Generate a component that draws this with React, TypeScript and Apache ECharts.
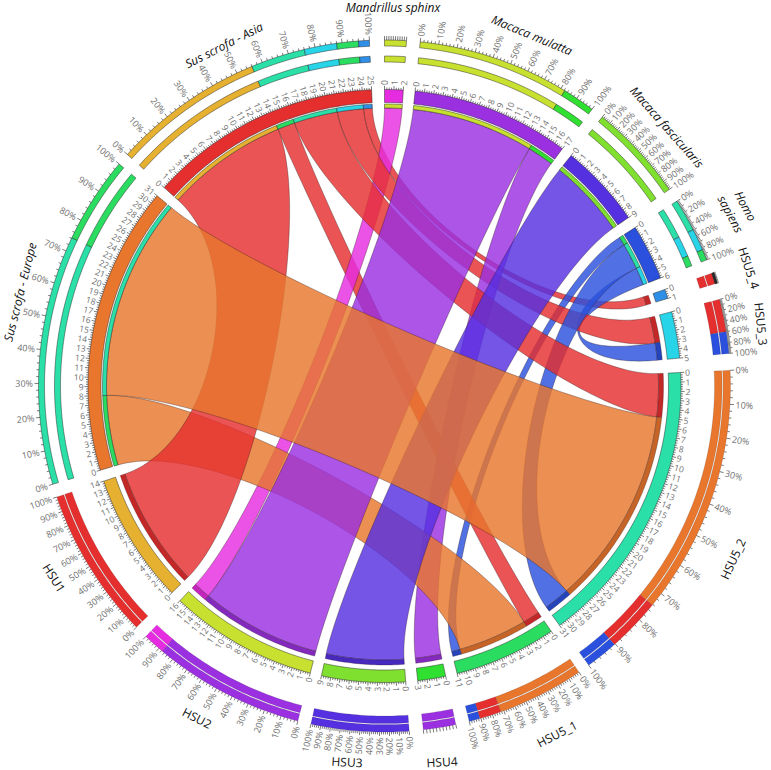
import React, { useEffect, useRef } from "react";
import * as echarts from "echarts";

// ---- data ----
const sectorNames = ["Mandrillus sphinx","Macaca mulatta","Macaca fascicularis","Homo sapiens","HSU5_4","HSU5_3","HSU5_2","HSU5_1","HSU4","HSU3","HSU2","HSU1","Sus scrofa - Europe","Sus scrofa - Asia"];
const sectorSizes = [2,17,9,6,1,5,31,11,3,9,16,14,31,25];
const sectorColors = ["#e62ce0","#9a30e0","#5530e0","#2b50dd","#2f8fe6","#28d5e8","#2be0a8","#2add60","#30e030","#80e030","#c8e030","#e6b030","#e8762d","#e52e2e"];
const sectorIsSource = [true,true,true,true,false,false,false,false,false,false,false,false,true,true];
// angle (deg clockwise from top) at which each sector begins
const sectorStarts = [0,5.93,39.0,57.7,71.0,75.5,87.4,145.8,168.1,175.9,194.5,225.8,253.5,312.0];
// flows: source sector, from, to, target sector, from, to
const flows: number[][] = [
  [13,0,14,11,0,14],[13,14,16,7,0,2],[13,16,21,6,0,5],[13,21,24,5,0,3],[13,24,25,4,0,1],
  [12,0,8,7,2,10],[12,8,31,6,5,28],
  [0,0,2,10,14,16],
  [1,0,14,10,0,14],[1,14,17,8,0,3],
  [2,0,9,9,0,9],
  [3,0,1,7,10,11],[3,1,4,6,28,31],[3,4,6,5,3,5],
];
const nameLabels = [
  { text: "Mandrillus sphinx", pos: [393, 7], rot: 0 },
  { text: "Macaca mulatta", pos: [532, 35], rot: 22.5 },
  { text: "Macaca fascicularis", pos: [667, 127], rot: 48.5 },
  { text: "Homo\nsapiens", pos: [738, 210], rot: 62 },
  { text: "HSU5_4", pos: [749, 268], rot: 72, plain: true },
  { text: "HSU5_3", pos: [761, 324], rot: 84, plain: true },
  { text: "HSU5_2", pos: [733, 559], rot: -65, plain: true },
  { text: "HSU5_1", pos: [557, 734], rot: -27, plain: true },
  { text: "HSU4", pos: [442, 762], rot: -3, plain: true },
  { text: "HSU3", pos: [347, 762], rot: 3, plain: true },
  { text: "HSU2", pos: [197, 718], rot: 27, plain: true },
  { text: "HSU1", pos: [54, 578], rot: 58, plain: true },
  { text: "Sus scrofa - Europe", pos: [20, 292], rot: -76 },
  { text: "Sus scrofa - Asia", pos: [224, 45], rot: -27 },
];

// ---- geometry ----
const UNIT = 1.82;
const R_RING = 296.5, R_RING_IN_SRC = 283.5, R_RING_IN_TGT = 284;
const R_STRIP = [278, 282];
const R_BAND = [274, 279];
const BEND = 0.65;
const RAD = Math.PI / 180;
const FONT = '"Open Sans", sans-serif';

const ang = (s: number, u: number) => sectorStarts[s] + u * UNIT;
const darken = (hex: string, f: number) => {
  const n = parseInt(hex.slice(1), 16);
  const c = [n >> 16, (n >> 8) & 255, n & 255].map((v) => Math.round(v * f));
  return `rgb(${c[0]},${c[1]},${c[2]})`;
};
const arcPts = (api: any, r: number, a0: number, a1: number) => {
  const n = Math.max(2, Math.ceil(Math.abs(a1 - a0) / 0.7));
  const out: number[][] = [];
  for (let i = 0; i <= n; i++) out.push(api.coord([r, a0 + ((a1 - a0) * i) / n]));
  return out;
};
const toD = (pts: number[][]) => "M" + pts.map((p) => p[0].toFixed(2) + " " + p[1].toFixed(2)).join("L") + "Z";
const ringPath = (api: any, r0: number, r1: number, a0: number, a1: number) =>
  toD([...arcPts(api, r1, a0, a1), ...arcPts(api, r0, a1, a0)]);
const ring = (api: any, r0: number, r1: number, a0: number, a1: number, fill: string, stroke = "rgba(30,30,30,0.75)", lw = 0.6) => ({
  type: "path",
  shape: { pathData: ringPath(api, r0, r1, a0, a1) },
  style: { fill, stroke, lineWidth: lw },
});
const tickPath = (api: any, list: number[][]) => {
  let d = "";
  for (const [a, r0, r1] of list) {
    const p = api.coord([r0, a]), q = api.coord([r1, a]);
    d += `M${p[0].toFixed(2)} ${p[1].toFixed(2)}L${q[0].toFixed(2)} ${q[1].toFixed(2)}`;
  }
  return { type: "path", shape: { pathData: d }, style: { fill: "none", stroke: "#222", lineWidth: 0.6 } };
};
const radialLabel = (api: any, r: number, a: number, text: string, size: number) => {
  const p = api.coord([r, a]);
  const right = a < 180;
  return {
    type: "text",
    x: p[0],
    y: p[1],
    rotation: ((right ? 90 - a : 270 - a) * RAD),
    style: { text, fill: "#707070", fontSize: size, fontFamily: FONT, align: right ? "left" : "right", verticalAlign: "middle", x: 0, y: 0 },
  };
};
const cubic = (p0: number[], p1: number[], p2: number[], p3: number[]) => {
  const out: number[][] = [];
  for (let i = 1; i < 60; i++) {
    const t = i / 60, u = 1 - t;
    out.push([0, 1].map((k) => u * u * u * p0[k] + 3 * u * u * t * p1[k] + 3 * u * t * t * p2[k] + t * t * t * p3[k]));
  }
  return out;
};

const ribbonOrder = flows.map((_, i) => i).sort((a, b) => (flows[a][2] - flows[a][1]) - (flows[b][2] - flows[b][1]));

const renderSector = (_: any, api: any) => {
  const id = api.value(2);
  if (id >= 100) {
    const f = flows[id - 100];
    const a0 = ang(f[0], f[1]), a1 = ang(f[0], f[2]);
    const b0 = ang(f[3], f[4]), b1 = ang(f[3], f[5]);
    const ra = R_STRIP[0], rb = R_BAND[0];
    const A = arcPts(api, ra, a0, a1), B = arcPts(api, rb, b0, b1);
    const pts = [
      ...A,
      ...cubic(A[A.length - 1], api.coord([ra * BEND, a1]), api.coord([rb * BEND, b0]), B[0]),
      ...B,
      ...cubic(B[B.length - 1], api.coord([rb * BEND, b1]), api.coord([ra * BEND, a0]), A[0]),
    ];
    const n = parseInt(sectorColors[f[0]].slice(1), 16);
    return {
      type: "group",
      children: [{
        type: "path",
        shape: { pathData: toD(pts) },
        style: { fill: `rgba(${n >> 16},${(n >> 8) & 255},${n & 255},0.82)`, stroke: "rgba(40,20,20,0.55)", lineWidth: 0.6 },
      }],
    };
  }
  const s = id;
  const size = sectorSizes[s];
  const src = sectorIsSource[s];
  const a0 = ang(s, 0), a1 = ang(s, size);
  const children: any[] = [];
  children.push(ring(api, src ? R_RING_IN_SRC : R_RING_IN_TGT, R_RING, a0, a1, sectorColors[s]));

  const mine = flows
    .filter((f) => f[0] === s || f[3] === s)
    .map((f) => (f[0] === s ? { from: f[1], to: f[2], other: f[3] } : { from: f[4], to: f[5], other: f[0] }));
  for (const m of mine) {
    const b0 = ang(s, m.from), b1 = ang(s, m.to);
    if (src) children.push(ring(api, R_STRIP[0], R_STRIP[1], b0, b1, sectorColors[m.other]));
    else children.push(ring(api, R_BAND[0], R_BAND[1], b0, b1, darken(sectorColors[m.other], 0.85), "rgba(30,10,10,0.5)", 0.5));
  }
  const sorted = [...mine].sort((x, y) => (y.to - y.from) - (x.to - x.from));
  let cum = 0;
  for (const m of sorted) {
    const u0 = cum, u1 = cum + (m.to - m.from);
    cum = u1;
    const b0 = ang(s, u0), b1 = ang(s, u1);
    const col = sectorColors[m.other];
    if (src) {
      children.push(ring(api, 340, 346, b0, b1, col));
      children.push(ring(api, 324, 330, b0, b1, col));
    } else {
      children.push(ring(api, 338.6, 346, b0, b1, col, "rgba(30,30,30,0.35)", 0.4));
      children.push(ring(api, 330, 337.6, b0, b1, col, "rgba(30,30,30,0.35)", 0.4));
    }
  }

  const ticks: number[][] = [];
  for (let i = 0; i <= size * 4; i++) {
    const major = i % 4 === 0;
    ticks.push([a0 + (i / 4) * UNIT, R_RING, R_RING + (major ? 3.6 : 2)]);
  }
  for (let u = 0; u <= size; u++) children.push(radialLabel(api, R_RING + 4.5, ang(s, u), String(u), 8.5));

  const minorPct = size === 2 || size === 3 ? 10 : 2;
  for (let p = 0; p <= 100; p += minorPct) {
    ticks.push([a0 + ((a1 - a0) * p) / 100, 346, 346 + (p % 10 === 0 ? 4 : 2.4)]);
  }
  const labelStep = size >= 9 ? 10 : size >= 5 ? 20 : 0;
  if (labelStep) {
    for (let p = 0; p <= 100; p += labelStep) {
      children.push(radialLabel(api, 351.5, a0 + ((a1 - a0) * p) / 100, p + "%", 9));
    }
  }
  children.push(tickPath(api, ticks));
  return { type: "group", children };
};

export default function App() {
  const ref = useRef<HTMLDivElement>(null);
  useEffect(() => {
    document.body.style.margin = "0";
    const chart = echarts.init(ref.current!, null, { renderer: "svg" });
    chart.setOption({
      animation: false,
      backgroundColor: "#ffffff",
      polar: { center: [384.5, 386], radius: 400 },
      radiusAxis: { type: "value", min: 0, max: 400, show: false },
      angleAxis: { type: "value", min: 0, max: 360, startAngle: 90, clockwise: true, show: false },
      series: [
        {
          type: "custom",
          coordinateSystem: "polar",
          silent: true,
          clip: false,
          renderItem: renderSector,
          data: [
            ...ribbonOrder.map((i) => [R_STRIP[0], ang(flows[i][0], flows[i][1]), 100 + i]),
            ...sectorNames.map((_, i) => [R_RING, sectorStarts[i], i]),
          ],
        },
      ],
      graphic: nameLabels.map((l) => ({
        type: "text",
        x: l.pos[0],
        y: l.pos[1],
        rotation: (-l.rot * Math.PI) / 180,
        z: 10,
        style: {
          text: l.text,
          fill: "#111",
          fontFamily: FONT,
          fontSize: 12,
          fontStyle: l.plain ? "normal" : "italic",
          align: "center",
          verticalAlign: "middle",
          lineHeight: 17,
        },
      })),
    });
    return () => chart.dispose();
  }, []);
  return <div ref={ref} style={{ position: "fixed", left: 0, top: 0, width: 771, height: 770 }} />;
}
